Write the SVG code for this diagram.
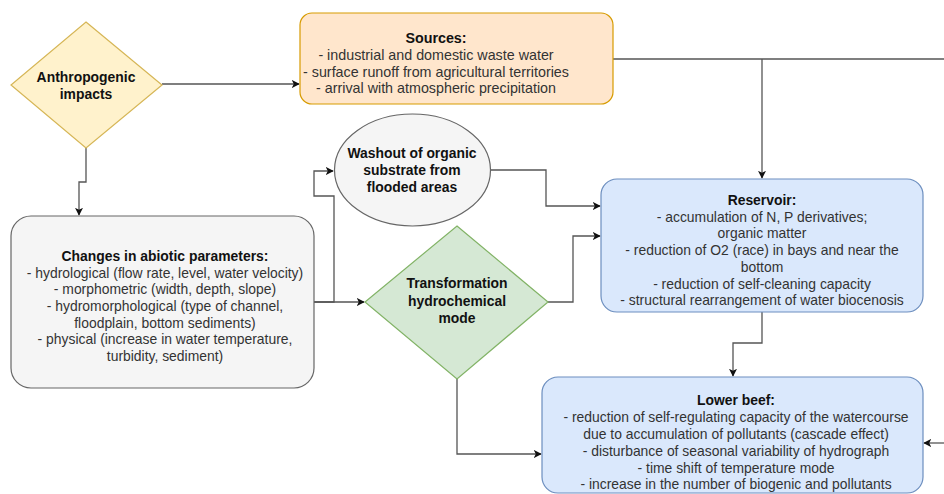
<svg xmlns="http://www.w3.org/2000/svg" width="944" height="494" viewBox="0 0 944 494">
  <defs>
    <marker id="arr" viewBox="0 0 10 10" refX="9" refY="5" markerWidth="8" markerHeight="8" markerUnits="userSpaceOnUse" orient="auto">
      <path d="M0,0 L10,5 L0,10 L2.5,5 z" fill="#111"/>
    </marker>
    <style>
      text { font-family: "Liberation Sans", Arial, sans-serif; font-size: 13.9px; text-anchor: middle; fill: #333; }
      .b { font-weight: bold; fill: #111; }
      .src { font-size: 14.3px; }
      .conn { fill: none; stroke: #555; stroke-width: 1.3; }
      .yellow { fill: #fff2cc; stroke: #d6b656; stroke-width: 1.2; }
      .orange { fill: #ffe6cc; stroke: #d79b00; stroke-width: 1.2; }
      .gray { fill: #f5f5f5; stroke: #666666; stroke-width: 1.2; }
      .green { fill: #d5e8d4; stroke: #82b366; stroke-width: 1.2; }
      .blue { fill: #dae8fc; stroke: #6c8ebf; stroke-width: 1.2; }
    </style>
  </defs>
  <rect width="944" height="494" fill="#ffffff"/>

  <g id="connectors">
    <path class="conn" d="M162,84 H299" marker-end="url(#arr)"/>
    <path class="conn" d="M86,148 V182 H79 V215" marker-end="url(#arr)"/>
    <path class="conn" d="M613,59 H944"/>
    <path class="conn" d="M762,59 V178" marker-end="url(#arr)"/>
    <path class="conn" d="M314,302 H364" marker-end="url(#arr)"/>
    <path class="conn" d="M314,302 H334 V196 H314 V171 H333" marker-end="url(#arr)"/>
    <path class="conn" d="M491,170 H546 V206 H600" marker-end="url(#arr)"/>
    <path class="conn" d="M548,302 H573 V236 H600" marker-end="url(#arr)"/>
    <path class="conn" d="M762,312 V343 H733 V376" marker-end="url(#arr)"/>
    <path class="conn" d="M457,379 V454 H541" marker-end="url(#arr)"/>
    <path class="conn" d="M944,443 H924" marker-end="url(#arr)"/>
  </g>

  <g id="anthropogenic">
    <polygon class="yellow" points="86,22 162,85 86,148 11,85"/>
    <text class="b" x="86" y="82">Anthropogenic</text>
    <text class="b" x="86" y="99">impacts</text>
  </g>

  <g id="sources">
    <rect class="orange" x="300" y="13" width="313" height="91" rx="12" ry="12"/>
    <text class="b src" x="436" y="43">Sources:</text>
    <text class="src" x="436" y="60">- industrial and domestic waste water</text>
    <text class="src" x="436" y="77">- surface runoff from agricultural territories</text>
    <text class="src" x="436" y="93">- arrival with atmospheric precipitation</text>
  </g>

  <g id="washout">
    <ellipse class="gray" cx="412.5" cy="170" rx="78" ry="56"/>
    <text class="b" x="412" y="158">Washout of organic</text>
    <text class="b" x="412" y="175">substrate from</text>
    <text class="b" x="412" y="192">flooded areas</text>
  </g>

  <g id="reservoir">
    <rect class="blue" x="601" y="179" width="322" height="133" rx="16" ry="16"/>
    <text class="b" x="762" y="205">Reservoir:</text>
    <text x="762" y="221.7">- accumulation of N, P derivatives;</text>
    <text x="762" y="238.4">organic matter</text>
    <text x="762" y="255.1">- reduction of O2 (race) in bays and near the</text>
    <text x="762" y="271.8">bottom</text>
    <text x="762" y="288.5">- reduction of self-cleaning capacity</text>
    <text x="762" y="305.2">- structural rearrangement of water biocenosis</text>
  </g>

  <g id="changes">
    <rect class="gray" x="11" y="216" width="303" height="172" rx="20" ry="20"/>
    <text class="b" x="165" y="261">Changes in abiotic parameters:</text>
    <text x="165" y="277.7">- hydrological (flow rate, level, water velocity)</text>
    <text x="165" y="294.3">- morphometric (width, depth, slope)</text>
    <text x="165" y="311">- hydromorphological (type of channel,</text>
    <text x="165" y="327.7">floodplain, bottom sediments)</text>
    <text x="165" y="344.3">- physical (increase in water temperature,</text>
    <text x="165" y="361">turbidity, sediment)</text>
  </g>

  <g id="transformation">
    <polygon class="green" points="457,226 548,302 457,379 365,302"/>
    <text class="b" x="457" y="288">Transformation</text>
    <text class="b" x="457" y="305.5">hydrochemical</text>
    <text class="b" x="457" y="323">mode</text>
  </g>

  <g id="lower-beef">
    <rect class="blue" x="542" y="377" width="381" height="116" rx="16" ry="16"/>
    <text class="b" x="736" y="405">Lower beef:</text>
    <text x="736" y="422">- reduction of self-regulating capacity of the watercourse</text>
    <text x="736" y="439">due to accumulation of pollutants (cascade effect)</text>
    <text x="736" y="456">- disturbance of seasonal variability of hydrograph</text>
    <text x="736" y="473">- time shift of temperature mode</text>
    <text x="736" y="489">- increase in the number of biogenic and pollutants</text>
  </g>
</svg>
